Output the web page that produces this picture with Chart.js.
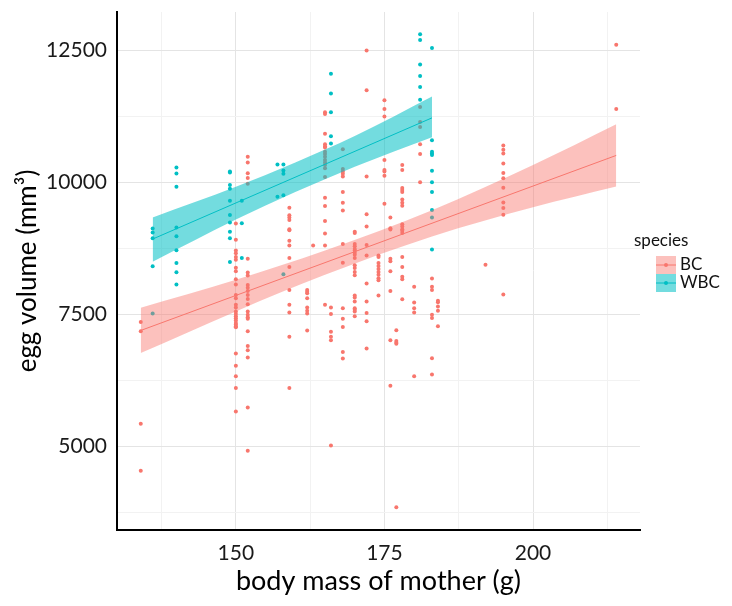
<!DOCTYPE html>
<html>
<head>
<meta charset="utf-8">
<script src="https://cdn.jsdelivr.net/npm/chart.js@4.4.0/dist/chart.umd.min.js"></script>
<style>
  html, body { margin: 0; padding: 0; background: #fff; }
</style>
</head>
<body>
<canvas id="chart" width="732" height="606"></canvas>
<script>
// ---- data ----
const bcMass = [134, 150, 152, 159, 162, 163, 165, 166, 168, 170, 172, 174, 175, 176, 177, 178, 180, 181, 183, 184, 192, 195, 214];
const bcEgg = [
  [7360, 7186, 5433, 4543],
  [9224, 8919, 8713, 8663, 8588, 8538, 8388, 8321, 8171, 8070, 7872, 7808, 7685, 7634, 7560, 7509, 7466, 7429, 7386, 7341, 7311, 7279, 7261, 6761, 6531, 6331, 6107, 5662],
  [10490, 10378, 10178, 10084, 9978, 8557, 8295, 8240, 8059, 8008, 7947, 7872, 7797, 7696, 7560, 7498, 7447, 7423, 7186, 6905, 6825, 6686, 5740, 4923],
  [9523, 9379, 9336, 9293, 9117, 9099, 8900, 8807, 8569, 8401, 7965, 7685, 7541, 7079, 6107],
  [7965, 7934, 7902, 7809, 7634, 7573, 7522, 7199],
  [8807],
  [11331, 11300, 10926, 10726, 10689, 10665, 10584, 10540, 10490, 10427, 10378, 10334, 10271, 10103, 9710, 9555, 9274, 9037, 8807, 7685],
  [7634, 7509, 7173, 7079, 7012, 5022],
  [10632, 10258, 10209, 10165, 10116, 9822, 9617, 9473, 8837, 8482, 7621, 7423, 7266, 6793, 6668],
  [9069, 9043, 8837, 8794, 8743, 8713, 8669, 8631, 8569, 8433, 8383, 8308, 8246, 7859, 7821, 7747, 7621, 7591, 7560, 7466],
  [12502, 11748, 10116, 9398, 9168, 8818, 8620, 8089, 7747, 7528, 7373, 6855],
  [8620, 8588, 8476, 8420, 8364, 8308, 8252, 8186, 8149, 7859],
  [11561, 11393, 11249, 10426, 10239, 10209, 10127, 9598],
  [9336, 9136, 9112, 8556, 8508, 8321, 7947, 7012, 6152],
  [7204, 6999, 6967, 6948, 3851],
  [10333, 10239, 9897, 9860, 9822, 9678, 9617, 9561, 9211, 9168, 9117, 9087, 9043, 8588, 8401, 8214, 8171, 7790],
  [8027, 7728, 7621, 7541, 6331],
  [11430, 11145, 11051, 10726, 10539, 10004],
  [8182, 8027, 7965, 7498, 7434, 6675, 6363],
  [7760, 7734, 7653, 7573, 7279],
  [8444],
  [10700, 10620, 10550, 10360, 10180, 10080, 9900, 9620, 9520, 9390, 7878],
  [12610, 11393]
];

const wbcMass = [136, 140, 149, 151, 157, 158, 166, 181, 183];
const wbcEgg = [
  [9130, 9056, 8943, 8414, 7520],
  [10284, 10172, 9921, 9149, 8981, 8719, 8476, 8300, 8070],
  [10209, 10190, 9953, 9884, 9654, 9387, 9243, 9069, 8943, 8495],
  [9654, 9230, 8569],
  [10340, 9729],
  [10340, 10228, 10165, 9761, 8265],
  [12061, 11687, 11331, 10875, 10739],
  [12808, 12702, 12235, 12016, 11810, 11567],
  [12547, 10800, 10583, 10552, 10520, 10224, 10006, 9819, 9482, 9336, 8732]
];

// fitted lines and confidence bands
const bcFitX = [134, 214];
const bcFitY = [7199, 10514];
const bcBandX = [134, 150, 165, 183, 200, 214];
const bcBandHi = [7630, 8160, 8712, 9477, 10331, 11104];
const bcBandLo = [6770, 7560, 8252, 8977, 9531, 9924];

const wbcFitX = [136, 183];
const wbcFitY = [8930, 11225];
const wbcBandX = [136, 150, 160, 170, 183];
const wbcBandHi = [9340, 9920, 10380, 10880, 11630];
const wbcBandLo = [8500, 9300, 9820, 10300, 10860];

const xMajor = [150, 175, 200];
const xMinor = [137.5, 162.5, 187.5, 212.5];
const yMajor = [5000, 7500, 10000, 12500];
const yMinor = [3750, 6250, 8750, 11250];

// ---- helpers ----
const RED = '#F8766D', CYAN = '#00BFC4';
const RED_BAND = 'rgba(248,118,109,0.45)', CYAN_BAND = 'rgba(0,191,196,0.55)';
const FONT = 'Lato, "Open Sans", sans-serif';

const flat = (xs, ys) => xs.flatMap((x, i) => ys[i].map(y => ({x, y})));
const pairs = (xs, ys) => xs.map((x, i) => ({x, y: ys[i]}));
const tickList = (major, minor) => [...minor, ...major].sort((a, b) => a - b).map(v => ({value: v}));

const bandSet = (xs, ys, color, fill) => ({
  type: 'line', data: pairs(xs, ys), fill: fill, backgroundColor: color,
  borderWidth: 0, pointRadius: 0, cubicInterpolationMode: 'monotone', order: 2
});
const fitSet = (xs, ys, color) => ({
  type: 'line', data: pairs(xs, ys), borderColor: color, borderWidth: 1,
  pointRadius: 0, fill: false, order: 1
});
const pointSet = (xs, ys, color) => ({
  type: 'scatter', data: flat(xs, ys), backgroundColor: color,
  borderWidth: 0, pointRadius: 2, order: 3
});

// legend drawn on the right like ggplot
const legendKeys = [
  {label: 'BC', color: RED, band: RED_BAND},
  {label: 'WBC', color: CYAN, band: CYAN_BAND}
];
const speciesLegend = {
  id: 'speciesLegend',
  afterDraw(chart) {
    const c = chart.ctx;
    c.save();
    c.fillStyle = '#111';
    c.textBaseline = 'middle';
    c.font = '17px ' + FONT;
    c.fillText('species', 634, 241);
    legendKeys.forEach((k, i) => {
      const y = 256 + i * 18;
      c.fillStyle = k.band;
      c.fillRect(656, y, 20, 18);
      c.strokeStyle = k.color;
      c.lineWidth = 1;
      c.beginPath(); c.moveTo(656, y + 9); c.lineTo(676, y + 9); c.stroke();
      c.fillStyle = k.color;
      c.beginPath(); c.arc(666, y + 9, 2, 0, Math.PI * 2); c.fill();
      c.fillStyle = '#111';
      c.font = '17px ' + FONT;
      c.fillText(k.label, 680, y + 9);
    });
    c.restore();
  }
};

new Chart(document.getElementById('chart'), {
  type: 'scatter',
  data: {
    datasets: [
      pointSet(bcMass, bcEgg, RED),
      pointSet(wbcMass, wbcEgg, CYAN),
      bandSet(bcBandX, bcBandHi, RED_BAND, '+1'),
      bandSet(bcBandX, bcBandLo, RED_BAND, false),
      bandSet(wbcBandX, wbcBandHi, CYAN_BAND, '+1'),
      bandSet(wbcBandX, wbcBandLo, CYAN_BAND, false),
      fitSet(bcFitX, bcFitY, RED),
      fitSet(wbcFitX, wbcFitY, CYAN)
    ]
  },
  options: {
    responsive: false,
    animation: false,
    devicePixelRatio: 1,
    layout: { padding: { top: 12, right: 92, left: 0, bottom: 0 } },
    plugins: { legend: { display: false }, tooltip: { enabled: false } },
    scales: {
      x: {
        type: 'linear', min: 130, max: 218,
        afterBuildTicks: s => { s.ticks = tickList(xMajor, xMinor); },
        afterFit: s => { s.height = 76; s.paddingLeft = 0; s.paddingRight = 0; },
        grid: {
          drawTicks: false,
          color: ctx => xMajor.includes(ctx.tick && ctx.tick.value) ? '#e4e4e4' : '#f2f2f2'
        },
        border: { color: '#000', width: 2 },
        ticks: {
          autoSkip: false, maxRotation: 0, padding: 11, color: '#1a1a1a',
          font: { family: FONT, size: 21 },
          callback: v => xMajor.includes(v) ? String(v) : ''
        },
        title: {
          display: true, text: 'body mass of mother (g)', color: '#000',
          font: { family: FONT, size: 27 }, padding: { top: 0, bottom: 9 }
        }
      },
      y: {
        type: 'linear', min: 3420, max: 13230,
        afterBuildTicks: s => { s.ticks = tickList(yMajor, yMinor); },
        afterFit: s => { s.width = 117; s.paddingTop = 0; s.paddingBottom = 0; },
        grid: {
          drawTicks: false,
          color: ctx => yMajor.includes(ctx.tick && ctx.tick.value) ? '#e4e4e4' : '#f2f2f2'
        },
        border: { color: '#000', width: 2 },
        ticks: {
          autoSkip: false, padding: 10, color: '#1a1a1a',
          font: { family: FONT, size: 21 },
          callback: v => yMajor.includes(v) ? String(v) : ''
        },
        title: {
          display: true, text: 'egg volume (mm³)', color: '#000',
          font: { family: FONT, size: 26 }, padding: { top: 12, bottom: 0 }
        }
      }
    }
  },
  plugins: [speciesLegend]
});
</script>
</body>
</html>
